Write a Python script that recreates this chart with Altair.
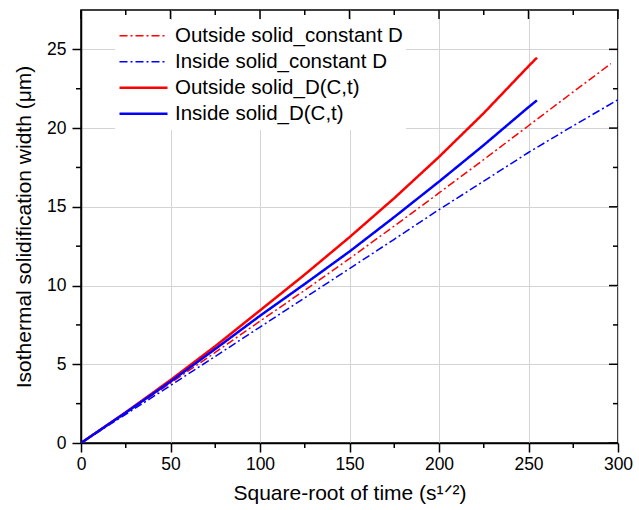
import altair as alt
import pandas as pd

# ---- data ----
series_names = [
    "Outside solid_constant D",
    "Inside solid_constant D",
    "Outside solid_D(C,t)",
    "Inside solid_D(C,t)",
]

x_out_const = [0, 25, 50, 75, 100, 125, 150, 175, 200, 225, 250, 275, 296]
y_out_const = [0, 1.9, 3.8, 5.75, 7.74, 9.7, 11.71, 13.78, 15.88, 18.0, 20.15, 22.3, 24.09]

x_in_const = [0, 25, 50, 75, 100, 125, 150, 175, 200, 225, 250, 275, 300]
y_in_const = [0, 1.82, 3.65, 5.5, 7.36, 9.22, 11.08, 12.94, 14.82, 16.63, 18.45, 20.15, 21.8]

x_out_dct = [0, 25, 50, 75, 100, 125, 150, 175, 200, 225, 250, 254.7]
y_out_dct = [0, 1.95, 4.0, 6.15, 8.42, 10.7, 13.07, 15.55, 18.17, 20.95, 23.93, 24.47]

x_in_dct = [0, 25, 50, 75, 100, 125, 150, 175, 200, 225, 250, 254.7]
y_in_dct = [0, 1.93, 3.9, 5.97, 8.08, 10.1, 12.16, 14.35, 16.6, 18.92, 21.33, 21.76]

x_major = [0, 50, 100, 150, 200, 250, 300]
x_minor = [25, 75, 125, 175, 225, 275]
y_major = [0, 5, 10, 15, 20, 25]
y_minor = [2.5, 7.5, 12.5, 17.5, 22.5]

colors = ["#ff0000", "#0000ff", "#ff0000", "#0000ff"]
dashes = [[8, 3, 2, 3], [8, 3, 2, 3], [1, 0], [1, 0]]
widths = [1.5, 1.5, 2.5, 2.5]

rows = []
for name, xs, ys in [
    (series_names[0], x_out_const, y_out_const),
    (series_names[1], x_in_const, y_in_const),
    (series_names[2], x_out_dct, y_out_dct),
    (series_names[3], x_in_dct, y_in_dct),
]:
    for xv, yv in zip(xs, ys):
        rows.append({"series": name, "x": xv, "y": yv})
df = pd.DataFrame(rows)

FONT = "Liberation Sans"
W, H = 537, 433

xscale = alt.Scale(domain=[0, 300], nice=False, zero=False)
yscale = alt.Scale(domain=[0, 27.5], nice=False, zero=False)

xaxis = alt.Axis(
    values=x_major,
    title="Square-root of time (s¹ᐟ²)",
    tickSize=9,
    labelPadding=3,
    labelFlush=False,
    titlePadding=10,
)
yaxis = alt.Axis(
    values=y_major,
    title="Isothermal solidification width (μm)",
    tickSize=9,
    labelPadding=6,
    labelFlush=False,
    titlePadding=12,
)

legend = alt.Legend(
    title=None,
    orient="none",
    legendX=34,
    legendY=10,
    fillColor="white",
    padding=3,
    symbolType="stroke",
    symbolSize=2304,
    clipHeight=25.3,
    labelFont=FONT,
    labelFontSize=20.5,
    labelColor="black",
    labelOffset=6,
    rowPadding=0,
    labelLimit=400,
)

lines = alt.Chart(df).mark_line(clip=True).encode(
    x=alt.X("x:Q", scale=xscale, axis=xaxis),
    y=alt.Y("y:Q", scale=yscale, axis=yaxis),
    color=alt.Color("series:N", scale=alt.Scale(domain=series_names, range=colors), legend=legend),
    strokeDash=alt.StrokeDash("series:N", scale=alt.Scale(domain=series_names, range=dashes), legend=legend),
    strokeWidth=alt.StrokeWidth(
        "series:N",
        scale=alt.Scale(type="ordinal", domain=series_names, range=widths),
        legend=legend,
    ),
)

df_xmaj = pd.DataFrame({"x": x_major})
df_xmin = pd.DataFrame({"x": x_minor})
df_ymaj = pd.DataFrame({"y": y_major})
df_ymin = pd.DataFrame({"y": y_minor})

def vtick(d, y0, y1):
    return alt.Chart(d).mark_rule(color="black", strokeWidth=1.5).encode(
        x=alt.X("x:Q", scale=xscale, axis=xaxis), y=alt.value(y0), y2=alt.value(y1)
    )

def htick(d, x0, x1):
    return alt.Chart(d).mark_rule(color="black", strokeWidth=1.5).encode(
        y=alt.Y("y:Q", scale=yscale, axis=yaxis), x=alt.value(x0), x2=alt.value(x1)
    )

ticks = [
    vtick(df_xmin, H, H + 5),   # bottom minor (outward)
    vtick(df_xmin, 0, 5),       # top minor (inward)
    vtick(df_xmaj, 0, 9),       # top major (inward)
    htick(df_ymin, 0, -5),      # left minor (outward)
    htick(df_ymin, W, W - 5),   # right minor (inward)
    htick(df_ymaj, W, W - 9),   # right major (inward)
]

chart = (
    alt.layer(lines, *ticks)
    .properties(
        width=W,
        height=H,
        padding={"left": 81, "top": 10, "right": 21, "bottom": 67},
        autosize=alt.AutoSizeParams(type="none"),
        background="white",
    )
    .configure_view(stroke="black", strokeWidth=1.5)
    .configure_axis(
        domainColor="black",
        domainWidth=1.5,
        tickColor="black",
        tickWidth=1.5,
        gridColor="#d4d4d4",
        gridWidth=1,
        grid=True,
        labelFont=FONT,
        labelFontSize=17.5,
        labelColor="black",
        titleFont=FONT,
        titleFontSize=21,
        titleFontWeight="normal",
        titleColor="black",
    )
)

chart.save("out.html", embed_options={"renderer": "svg", "actions": False})
